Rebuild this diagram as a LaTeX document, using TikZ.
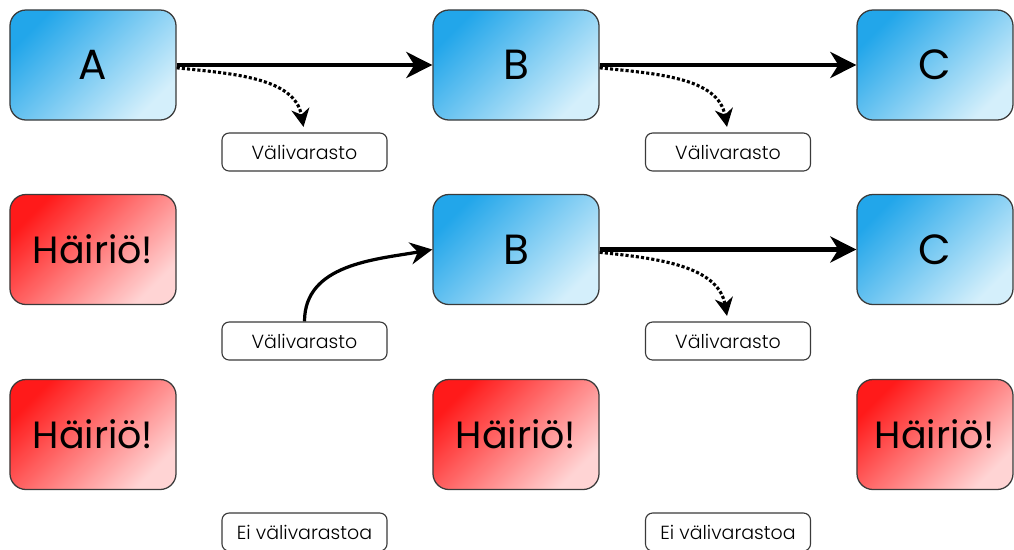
\documentclass[tikz,border=0pt]{standalone}
\usepackage{fontspec}
\setmainfont{Poppins}
\newfontfamily\lightfont{Poppins Light}
\usetikzlibrary{arrows.meta}
\definecolor{bluedark}{HTML}{22A6EA}
\definecolor{bluelight}{HTML}{D4EFFB}
\definecolor{reddark}{HTML}{FF1A1A}
\definecolor{redlight}{HTML}{FFD4D4}
\definecolor{edge}{HTML}{3A3A3A}
\tikzset{
  phase/.style={rounded corners=0.4cm, draw=edge, line width=0.9pt, minimum width=4.15cm, minimum height=2.75cm, inner sep=0pt, font=\fontsize{30}{30}\selectfont},
  bluephase/.style={phase, top color=bluedark, bottom color=bluelight, shading angle=45},
  redphase/.style={phase, top color=reddark, bottom color=redlight, shading angle=45, font=\fontsize{27}{27}\selectfont},
  narrow/.style={minimum width=3.9cm},
  buffer/.style={rounded corners=0.18cm, draw=edge, line width=0.8pt, fill=white, minimum width=4.125cm, minimum height=0.95cm, inner sep=0pt, font=\lightfont\fontsize{13.5}{14}\selectfont},
  flow/.style={line width=3.3pt, -{Stealth[length=6.5mm,width=6.5mm,inset=2mm]}},
  tobuffer/.style={line width=2.2pt, dash pattern=on 2.2pt off 1.5pt, -{Stealth[length=4.5mm,width=4.5mm,inset=1.4mm]}},
  frombuffer/.style={line width=2.3pt, -{Stealth[length=5.5mm,width=5.5mm,inset=1.8mm]}}
}
\begin{document}
\begin{tikzpicture}[x=0.025cm, y=-0.025cm]
            \useasboundingbox (0,0) rectangle (1014,549);
            \node[bluephase] (a1) at (93,65) {A};
            \node[bluephase] (b1) at (516,65) {B};
            \node[bluephase, narrow] (c1) at (935,65) {C};
            \node[buffer] (v1) at (304.5,152) {Välivarasto};
            \node[buffer] (v2) at (728,152) {Välivarasto};
            \draw[flow] (a1.east) -- (b1.west);
            \draw[flow] (b1.east) -- (c1.west);
            \draw[tobuffer, shorten >=4pt] ([yshift=-2pt]a1.east) to[out=-6, in=100] (v1.north);
            \draw[tobuffer, shorten >=4pt] ([yshift=-2pt]b1.east) to[out=-6, in=100] (v2.north);

            \node[redphase] (h1) at (93,249.5) {Häiriö!};
            \node[bluephase] (b2) at (516,249.5) {B};
            \node[bluephase, narrow] (c2) at (935,249.5) {C};
            \node[buffer] (v3) at (304.5,341) {Välivarasto};
            \node[buffer] (v4) at (728,341) {Välivarasto};
            \draw[frombuffer] (v3.north) to[out=90, in=190] (b2.west);
            \draw[flow] (b2.east) -- (c2.west);
            \draw[tobuffer, shorten >=4pt] ([yshift=-2pt]b2.east) to[out=-6, in=100] (v4.north);

            \node[redphase] (h2) at (93,434.5) {Häiriö!};
            \node[redphase] (h3) at (516,434.5) {Häiriö!};
            \node[redphase, narrow] (h4) at (935,434.5) {Häiriö!};
            \node[buffer] (e1) at (304.5,532) {Ei välivarastoa};
            \node[buffer] (e2) at (728,532) {Ei välivarastoa};
\end{tikzpicture}
\end{document}
